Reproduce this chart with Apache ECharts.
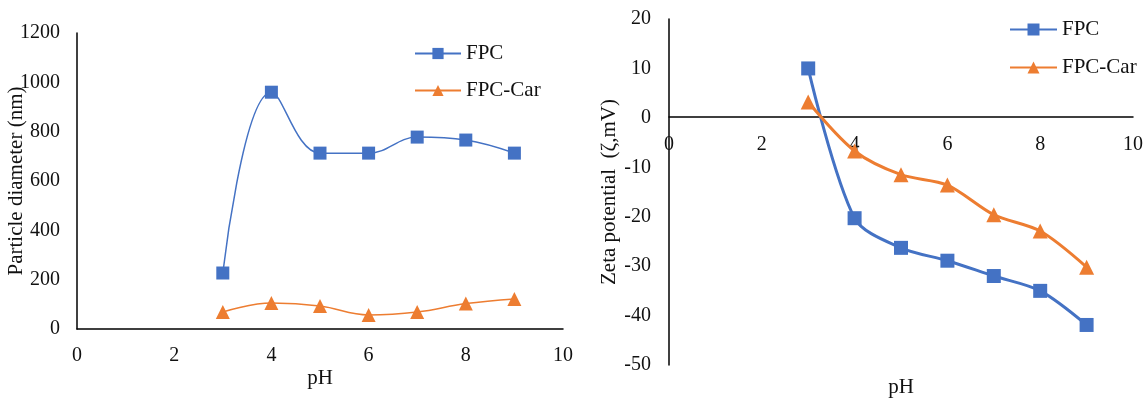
<!DOCTYPE html>
<html>
<head>
<meta charset="utf-8">
<script src="https://cdn.jsdelivr.net/npm/echarts@6/dist/echarts.min.js"></script>
<style>
html,body{margin:0;padding:0;background:#fff;}
#c{width:1143px;height:400px;}
</style>
</head>
<body>
<div id="c"></div>
<script>
const pH = [3, 4, 5, 6, 7, 8, 9];
const diameterFPC = [227, 960, 713, 713, 778, 766, 713];
const diameterFPCCar = [69, 105, 93, 57, 69, 103, 122];
const zetaFPC = [10, -20.3, -26.3, -28.9, -32, -35, -41.9];
const zetaFPCCar = [3.2, -6.7, -11.5, -13.6, -19.6, -22.9, -30.2];

const pair = (xs, ys) => xs.map((x, i) => [x, ys[i]]);
const font = 'Liberation Serif, Times New Roman, serif';
const blue = '#4472C4', orange = '#ED7D31';

function axis(extra, labelMargin) {
  return Object.assign({
    type: 'value',
    axisLine: {onZero: false, lineStyle: {color: '#000', width: 1.5}},
    axisTick: {show: false},
    splitLine: {show: false},
    axisLabel: {color: '#111', fontFamily: font, fontSize: 20, margin: labelMargin, formatter: v => String(v)},
    nameTextStyle: {color: '#111', fontFamily: font, fontSize: 21},
    nameLocation: 'middle',
    nameMoveOverlap: false
  }, extra);
}

const chart = echarts.init(document.getElementById('c'), null, {renderer: 'canvas'});
chart.setOption({
  animation: false,
  textStyle: {fontFamily: font},
  grid: [
    {left: 77, top: 33, width: 486, height: 296, outerBoundsMode: 'none', containLabel: false},
    {left: 669, top: 19, width: 464, height: 346, outerBoundsMode: 'none', containLabel: false}
  ],
  xAxis: [
    axis({gridIndex: 0, min: 0, max: 10, interval: 2, name: 'pH', nameGap: 39}, 17),
    axis({gridIndex: 1, min: 0, max: 10, interval: 2, name: 'pH', nameGap: 260, offset: -248}, 18)
  ],
  yAxis: [
    axis({gridIndex: 0, min: 0, max: 1200, interval: 200, name: 'Particle diameter (nm)', nameGap: 50}, 17),
    axis({gridIndex: 1, min: -50, max: 20, interval: 10, name: 'Zeta potential  (ζ,mV)', nameGap: 49}, 18)
  ],
  legend: [
    {left: 409, top: 38, orient: 'vertical', itemGap: 16, itemWidth: 46, itemHeight: 14,
     textStyle: {fontFamily: font, fontSize: 21, color: '#111'},
     data: [{name: 'FPC'}, {name: 'FPC-Car'}]},
    {left: 1004, top: 14, orient: 'vertical', itemGap: 17, itemWidth: 47, itemHeight: 15,
     textStyle: {fontFamily: font, fontSize: 21, color: '#111'},
     data: [{name: 'FPC '}, {name: 'FPC-Car '}]}
  ],
  series: [
    {name: 'FPC', type: 'line', xAxisIndex: 0, yAxisIndex: 0, data: pair(pH, diameterFPC), smooth: 0.4,
     symbol: 'rect', symbolSize: 13, itemStyle: {color: blue}, lineStyle: {color: blue, width: 1.5}},
    {name: 'FPC-Car', type: 'line', xAxisIndex: 0, yAxisIndex: 0, data: pair(pH, diameterFPCCar), smooth: 0.4,
     symbol: 'triangle', symbolSize: 14, itemStyle: {color: orange}, lineStyle: {color: orange, width: 1.5}},
    {name: 'FPC ', type: 'line', xAxisIndex: 1, yAxisIndex: 1, data: pair(pH, zetaFPC), smooth: 0.3,
     symbol: 'rect', symbolSize: 14, itemStyle: {color: blue}, lineStyle: {color: blue, width: 3}},
    {name: 'FPC-Car ', type: 'line', xAxisIndex: 1, yAxisIndex: 1, data: pair(pH, zetaFPCCar), smooth: 0.3,
     symbol: 'triangle', symbolSize: 15, itemStyle: {color: orange}, lineStyle: {color: orange, width: 3}}
  ]
});
</script>
</body>
</html>
